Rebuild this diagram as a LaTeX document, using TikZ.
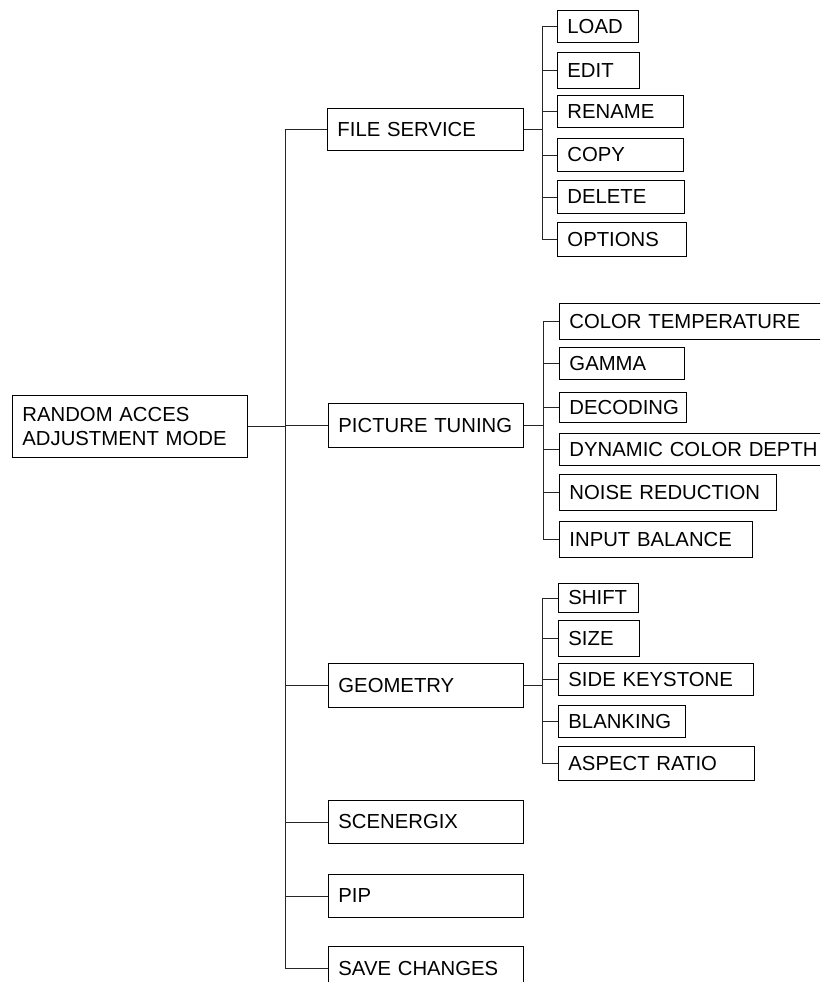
\documentclass[tikz,border=0pt]{standalone}
\usepackage{fontspec}
\setmainfont{Liberation Sans}
\begin{document}
\begin{tikzpicture}[x=1pt,y=-1pt,
  box/.style={draw=black, line width=0.9pt, rectangle, inner sep=0pt, anchor=north west,
    align=left, font=\fontsize{20.3}{24.3}\selectfont},
  conn/.style={draw=black!85, line width=0.9pt}]
\useasboundingbox (0,0) rectangle (820,982);
\clip (0,0) rectangle (820,982);
\newcommand\bx[6]{%
  \pgfmathsetmacro\bw{#4-#2}\pgfmathsetmacro\bh{#5-#3}\pgfmathsetmacro\tw{#4-#2-20}%
  \node[box, minimum width=\bw pt, minimum height=\bh pt, text width=\tw pt] (#1) at (#2,#3) {#6};}
% root and first level
\bx{root}{12}{395}{247}{457}{RANDOM ACCES\\ADJUSTMENT MODE}
\bx{fs}{327}{108}{523}{150}{FILE SERVICE}
\bx{pt}{328}{403}{523}{447}{PICTURE TUNING}
\bx{geo}{328}{663}{523}{707}{GEOMETRY}
\bx{scn}{328}{800}{523}{843}{SCENERGIX}
\bx{pip}{328}{874}{523}{917}{PIP}
\bx{sav}{328}{946}{523}{990}{SAVE CHANGES}
% file service children
\bx{load}{557}{10}{638}{42}{LOAD}
\bx{edit}{557}{52}{639}{88}{EDIT}
\bx{ren}{557}{95}{683}{127}{RENAME}
\bx{copy}{557}{138}{683}{171}{COPY}
\bx{del}{557}{180}{684}{213}{DELETE}
\bx{opt}{557}{222}{686}{256}{OPTIONS}
% picture tuning children
\bx{ct}{559}{303}{840}{339}{COLOR TEMPERATURE}
\bx{gam}{559}{347}{684}{379}{GAMMA}
\bx{dec}{559}{392}{686}{422}{DECODING}
\bx{dcd}{559}{433}{840}{465}{DYNAMIC COLOR DEPTH}
\bx{nr}{559}{474}{776}{510}{NOISE REDUCTION}
\bx{ib}{559}{521}{752}{557}{INPUT BALANCE}
% geometry children
\bx{shf}{558}{583}{638}{612}{SHIFT}
\bx{siz}{558}{620}{639}{656}{SIZE}
\bx{sk}{558}{663}{753}{695}{SIDE KEYSTONE}
\bx{blk}{558}{705}{685}{737}{BLANKING}
\bx{ar}{558}{746}{754}{780}{ASPECT RATIO}
% trunk
\coordinate (T) at (285,0);
\draw[conn] (root.east) -- (root.east -| T);
\draw[conn] (fs.west) -| (T |- sav.west) -- (sav.west);
\foreach \n in {pt,geo,scn,pip} \draw[conn] (\n.west) -- (\n.west -| T);
% file service bus
\coordinate (B1) at (542,0);
\draw[conn] (fs.east) -- (fs.east -| B1);
\draw[conn] (load.west) -| (B1 |- opt.west) -- (opt.west);
\foreach \n in {edit,ren,copy,del} \draw[conn] (\n.west) -- (\n.west -| B1);
% picture tuning bus
\coordinate (B2) at (543,0);
\draw[conn] (pt.east) -- (pt.east -| B2);
\draw[conn] (ct.west) -| (B2 |- ib.west) -- (ib.west);
\foreach \n in {gam,dec,dcd,nr} \draw[conn] (\n.west) -- (\n.west -| B2);
% geometry bus
\coordinate (B3) at (542,0);
\draw[conn] (geo.east) -- (geo.east -| B3);
\draw[conn] (shf.west) -| (B3 |- ar.west) -- (ar.west);
\foreach \n in {siz,sk,blk} \draw[conn] (\n.west) -- (\n.west -| B3);
\end{tikzpicture}
\end{document}
